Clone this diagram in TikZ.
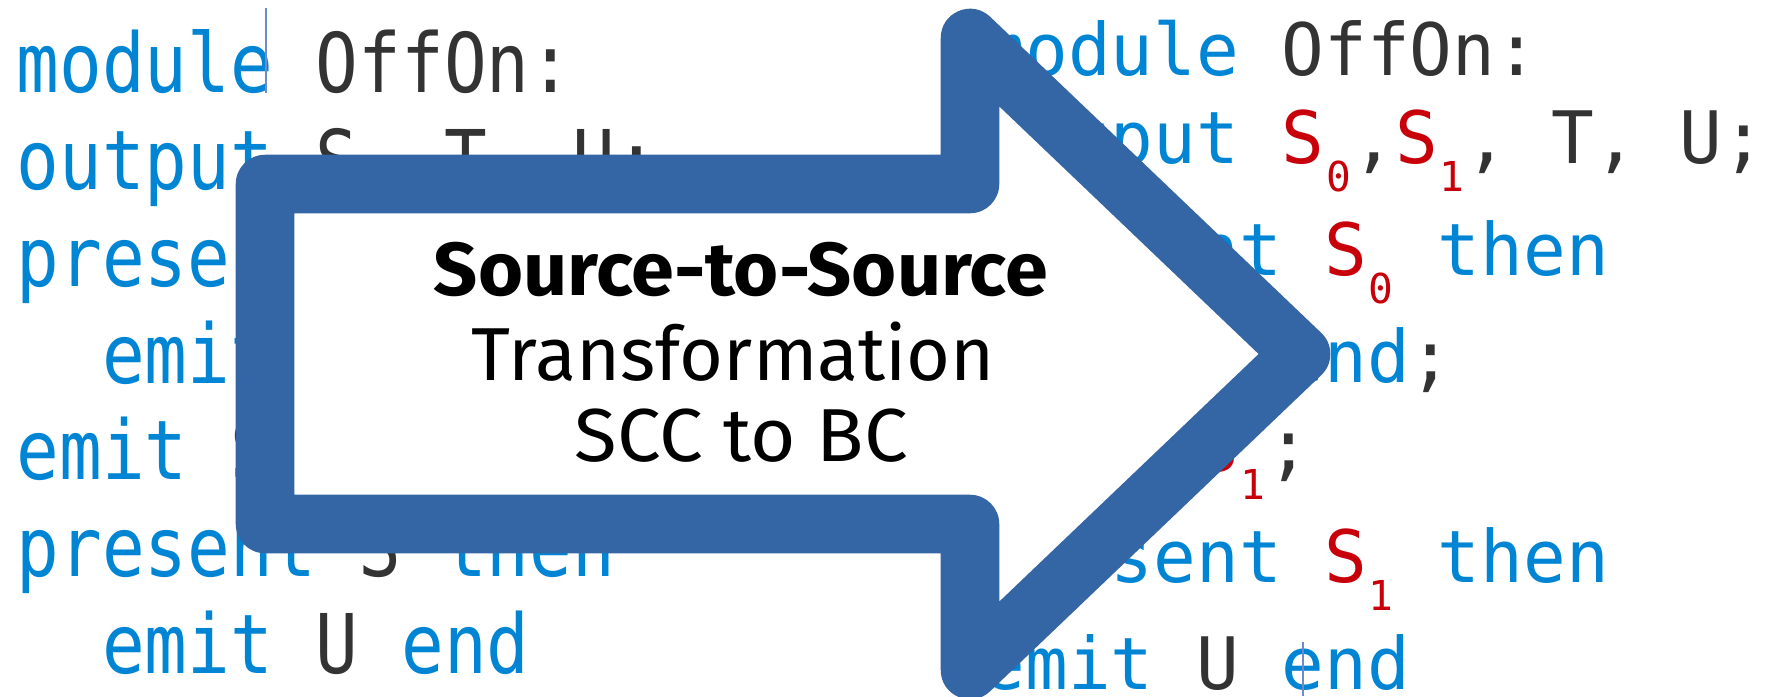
\documentclass[tikz,border=0pt]{standalone}
\usepackage{fontspec}
\usepackage{graphicx}
\setmainfont{Fira Sans}
% code fonts: monospaced, widened/narrowed to the editor's character pitch
\newfontfamily\leftmono[FakeStretch=0.862]{DejaVu Sans Mono}
\newfontfamily\rightmono[FakeStretch=0.981]{DejaVu Sans Mono}
\newfontfamily\submono{DejaVu Sans Mono}

\definecolor{kwblue}{RGB}{0,133,212}
\definecolor{idgray}{RGB}{51,51,51}
\definecolor{sigred}{RGB}{200,0,10}
\definecolor{arrowblue}{RGB}{52,101,164}
\definecolor{cursorblue}{RGB}{110,140,205}

\newdimen\px \px=0.01cm
\frenchspacing

% syntax colouring
\newcommand\kw[1]{\textcolor{kwblue}{#1}}
\newcommand\id[1]{\textcolor{idgray}{#1}}
\newcommand\sig[1]{\textcolor{sigred}{S\makebox[28\px][c]{\raisebox{-28\px}{\submono\fontsize{11.72pt}{12pt}\selectfont #1}}}}

\tikzset{
  leftcode/.style={anchor=base west, inner sep=0pt, text=idgray,
    font=\leftmono\fontsize{23.42pt}{28pt}\selectfont},
  rightcode/.style={anchor=base west, inner sep=0pt, text=idgray,
    font=\rightmono\fontsize{20.57pt}{24pt}\selectfont},
  labeltext/.style={anchor=base, inner sep=0pt, text=black,
    font=\fontsize{21.35pt}{24pt}\selectfont},
  bigarrow/.style={draw=arrowblue, fill=white, line width=5.85mm, line join=round},
  cursor/.style={draw=cursorblue, line width=0.18mm}
}

\begin{document}
\begin{tikzpicture}[x=0.01cm, y=-0.01cm]
\useasboundingbox (0,0) rectangle (1771,696);
\fill[white] (0,0) rectangle (1771,696);

% original program (single signal S)
\node[leftcode] (l1) at (16,92.5)  {\kw{module} \id{OffOn:}};
\node[leftcode] (l2) at (16,189.7) {\kw{output} \id{S, T, U;}};
\node[leftcode] (l3) at (16,286.4) {\kw{present} \id{S} \kw{then}};
\node[leftcode] (l4) at (16,383.1) {\phantom{xx}\kw{emit} \id{T} \kw{end}\id{;}};
\node[leftcode] (l5) at (16,479.8) {\kw{emit} \id{S;}};
\node[leftcode] (l6) at (16,576.5) {\kw{present} \id{S} \kw{then}};
\node[leftcode] (l7) at (16,673.2) {\phantom{xx}\kw{emit} \id{U} \kw{end}};

% transformed program (signal split into S0, S1)
\node[rightcode] (r1) at (982,75)    {\kw{module} \id{OffOn:}};
\node[rightcode] (r2) at (982,163)   {\kw{output} \sig{0}\id{,}\sig{1}\id{, T, U;}};
\node[rightcode] (r3) at (982,275)   {\kw{present} \sig{0} \kw{then}};
\node[rightcode] (r4) at (982,382.5) {\kw{emit} \id{T} \kw{end}\id{;}};
\node[rightcode] (r5) at (982,471)   {\kw{emit} \sig{1}\id{;}};
\node[rightcode] (r6) at (982,582.5) {\kw{present} \sig{1} \kw{then}};
\node[rightcode] (r7) at (982,689)   {\kw{emit} \id{U} \kw{end}};

% editor cursors
\coordinate (c1a) at (266,8);
\coordinate (c1b) at (266,93);
\coordinate (c2a) at (1302.7,642);
\coordinate (c2b) at (1302.7,696);
\draw[cursor] (c1a) -- (c1b);
\draw[cursor] (c2a) -- (c2b);

% block arrow
\draw[bigarrow] (265,184) -- (970,184) -- (970,38) -- (1301,354)
  -- (970,670) -- (970,524) -- (265,524) -- cycle;

% arrow caption
\node[labeltext] (t1) at (741,295)   {\resizebox{614\px}{\height}{\bfseries Source-to-Source}};
\node[labeltext] (t2) at (733.5,380) {\resizebox{523\px}{\height}{Transformation}};
\node[labeltext] (t3) at (741.5,461) {\resizebox{333\px}{\height}{SCC to BC}};
\end{tikzpicture}
\end{document}
